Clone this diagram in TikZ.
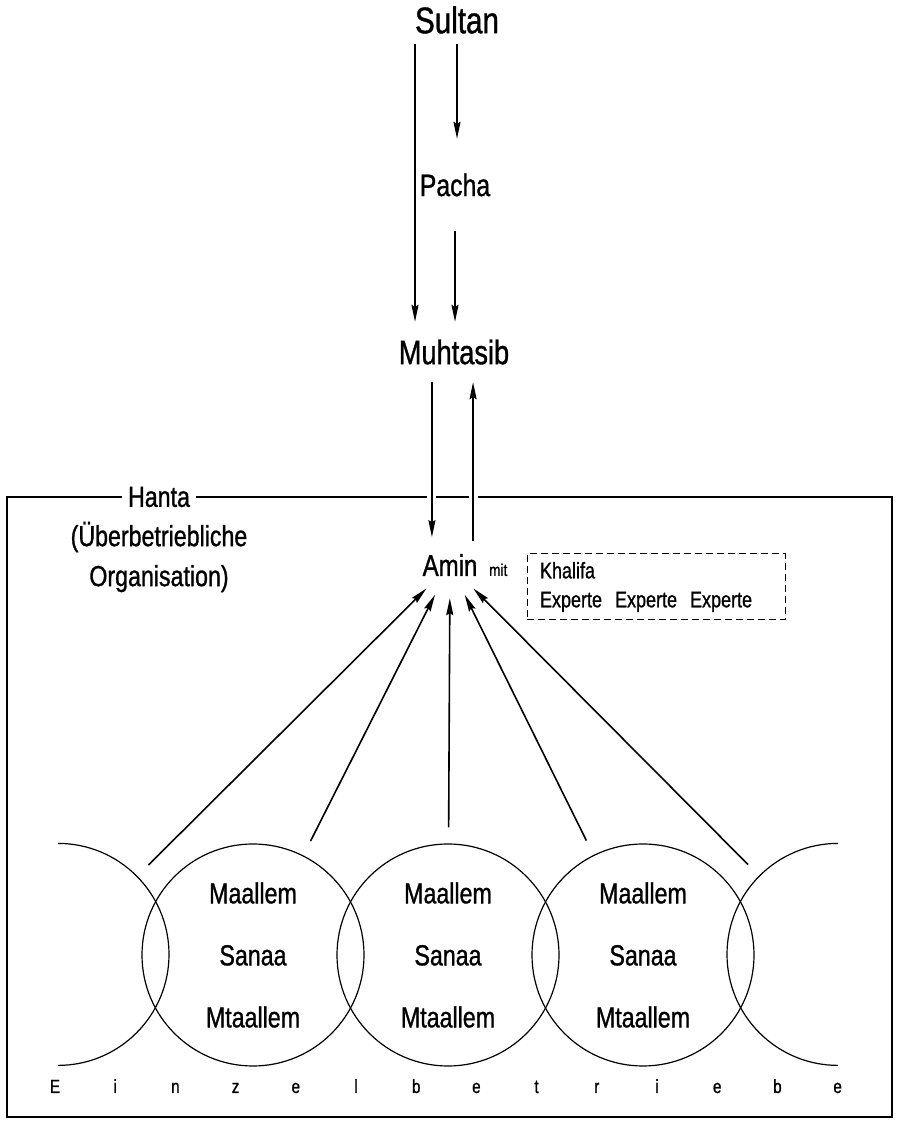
\documentclass[tikz,border=0pt]{standalone}
\usepackage{fontspec}
\setmainfont[FakeStretch=0.8,FakeBold=0]{Liberation Sans}
\newfontfamily\heavyfont[FakeStretch=0.8,FakeBold=1]{Liberation Sans}
\usetikzlibrary{arrows.meta}
\begin{document}
\begin{tikzpicture}[x=1pt,y=1pt]
\tikzstyle{every node}+=[inner sep=0pt]
\tikzstyle{arr}=[-{Stealth[length=17pt,width=7pt,inset=2pt]},line width=1.6pt]
\tikzstyle{gap}=[preaction={draw=white,line width=9pt,-}]
\tikzstyle{ring}=[circle,minimum size=222pt,line width=1.2pt,align=center,font=\heavyfont\fontsize{29}{62}\selectfont]
\useasboundingbox (0,0) rectangle (897,1121);
% oben: Sultan, Pacha, Muhtasib
\node (sultan) [minimum height=48pt,font=\heavyfont\fontsize{37}{40}\selectfont] at (457,1101) {Sultan};
\node (pacha) [minimum height=92pt,font=\heavyfont\fontsize{31}{34}\selectfont] at (455,936) {Pacha};
\node (muhtasib) [minimum height=60pt,font=\heavyfont\fontsize{34}{36}\selectfont] at (454,769) {Muhtasib};
\coordinate (sl) at ([xshift=-42pt]sultan.south);
\draw[arr] (sl) -- (sl |- muhtasib.north);
\draw[arr] (sultan.south) -- (sultan.south |- pacha.north);
\draw[arr] (pacha.south) -- (pacha.south |- muhtasib.north);
% Hanta
\draw[line width=1.5pt] (7,4) rectangle (892,624);
\node (hanta) [fill=white,inner xsep=6pt,inner ysep=2pt,font=\heavyfont\fontsize{29}{32}\selectfont] at (159,624) {Hanta};
\node (org) [align=center,font=\heavyfont\fontsize{29}{40}\selectfont] at (159,564) {(Überbetriebliche\\Organisation)};
\node (amin) [circle,minimum size=66pt,font=\heavyfont\fontsize{30}{32}\selectfont] at (450,556) {Amin};
\node (mit) [anchor=base west,font=\heavyfont\fontsize{17}{18}\selectfont] at ([xshift=39pt]amin.base) {mit};
\node (khalifa) [draw,dash pattern=on 7pt off 4pt,line width=1pt,minimum width=258pt,minimum height=66pt,
  text width=232pt,align=left,font=\heavyfont\fontsize{22.5}{29}\selectfont] at (656,534)
  {Khalifa\\Experte\hspace{13pt}Experte\hspace{13pt}Experte};
\draw[arr,gap] (amin.123 |- muhtasib.south) -- (amin.123);
\draw[arr,gap] (amin.46) -- (amin.46 |- muhtasib.south);
% Einzelbetriebe
\foreach \n/\x in {1/253,2/448,3/643}
  \node (c\n) [ring,draw] at (\x,166) {Maallem\\Sanaa\\Mtaallem};
\node (cl) [ring] at (58,166) {};
\node (cr) [ring] at (838,166) {};
\draw[line width=1.2pt] (cl.north) arc[start angle=90,end angle=-90,radius=111pt];
\draw[line width=1.2pt] (cr.north) arc[start angle=90,end angle=270,radius=111pt];
\foreach \n in {l,1,2,3,r}
  \draw[arr,shorten <=16pt] (c\n) -- (amin);
\foreach \c [count=\i from 0] in {E,i,n,z,e,l,b,e,t,r,i,e,b,e}
  \node (e\i) [anchor=base,font=\heavyfont\fontsize{19}{20}\selectfont] at (55+60.2*\i,28) {\c};
\end{tikzpicture}
\end{document}
